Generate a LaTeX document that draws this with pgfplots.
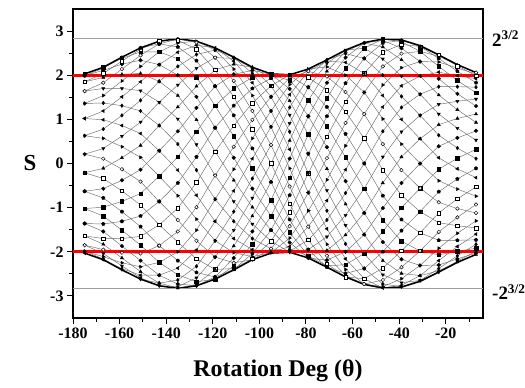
\documentclass[border=0pt]{standalone}
\usepackage{pgfplots}
\pgfplotsset{compat=1.18}
\usepackage{pgfplotstable}
\usepackage{fontspec}
\setmainfont{Liberation Serif}
\definecolor{lgray}{rgb}{0.42,0.42,0.42}
\definecolor{hgray}{rgb}{0.62,0.62,0.62}

\pgfplotstableread{
t A L c0 c1 c2 c3 c4 c5 c6 c7 c8 c9 c10 c11 c12 c13 c14 c15 c16 c17 c18 c19 c20 c21 c22 c23 c24 c25 c26 c27 c28 c29
-175 2.03 -2.03 2.03 1.99 1.85 1.64 1.36 1.02 0.63 0.21 -0.21 -0.63 -1.02 -1.36 -1.64 -1.85 -1.99 -2.03 -1.99 -1.85 -1.64 -1.36 -1.02 -0.63 -0.21 0.21 0.63 1.02 1.36 1.64 1.85 1.99
-167 2.18 -2.18 2.18 2.11 1.95 1.70 1.37 0.99 0.57 0.11 -0.34 -0.78 -1.19 -1.54 -1.83 -2.04 -2.16 -2.18 -2.11 -1.95 -1.70 -1.37 -0.99 -0.57 -0.11 0.34 0.78 1.19 1.54 1.83 2.04 2.16
-159 2.41 -2.41 2.38 2.25 2.02 1.70 1.31 0.86 0.38 -0.13 -0.62 -1.09 -1.51 -1.87 -2.14 -2.32 -2.40 -2.38 -2.25 -2.02 -1.70 -1.31 -0.86 -0.38 0.13 0.62 1.09 1.51 1.87 2.14 2.32 2.40
-151 2.62 -2.62 2.53 2.34 2.04 1.65 1.19 0.68 0.14 -0.41 -0.94 -1.43 -1.85 -2.20 -2.45 -2.59 -2.62 -2.53 -2.34 -2.04 -1.65 -1.19 -0.68 -0.14 0.41 0.94 1.43 1.85 2.20 2.45 2.59 2.62
-143 2.77 -2.77 2.53 2.24 1.86 1.39 0.86 0.29 -0.29 -0.86 -1.39 -1.86 -2.24 -2.53 -2.71 -2.77 -2.71 -2.53 -2.24 -1.86 -1.39 -0.86 -0.29 0.29 0.86 1.39 1.86 2.24 2.53 2.71 2.77 2.71
-135 2.83 -2.83 2.37 2.00 1.54 1.01 0.44 -0.15 -0.73 -1.28 -1.78 -2.20 -2.52 -2.73 -2.82 -2.79 -2.64 -2.37 -2.00 -1.54 -1.01 -0.44 0.15 0.73 1.28 1.78 2.20 2.52 2.73 2.82 2.79 2.64
-127 2.77 -2.77 1.96 1.51 0.99 0.43 -0.15 -0.72 -1.26 -1.75 -2.16 -2.47 -2.68 -2.77 -2.74 -2.59 -2.33 -1.96 -1.51 -0.99 -0.43 0.15 0.72 1.26 1.75 2.16 2.47 2.68 2.77 2.74 2.59 2.33
-119 2.62 -2.62 1.31 0.81 0.27 -0.27 -0.81 -1.31 -1.75 -2.12 -2.40 -2.57 -2.62 -2.57 -2.40 -2.12 -1.75 -1.31 -0.81 -0.27 0.27 0.81 1.31 1.75 2.12 2.40 2.57 2.62 2.57 2.40 2.12 1.75
-111 2.41 -2.41 0.62 0.13 -0.38 -0.86 -1.31 -1.70 -2.02 -2.25 -2.38 -2.40 -2.32 -2.14 -1.87 -1.51 -1.09 -0.62 -0.13 0.38 0.86 1.31 1.70 2.02 2.25 2.38 2.40 2.32 2.14 1.87 1.51 1.09
-103 2.18 -2.18 -0.11 -0.57 -0.99 -1.37 -1.70 -1.95 -2.11 -2.18 -2.16 -2.04 -1.83 -1.54 -1.19 -0.78 -0.34 0.11 0.57 0.99 1.37 1.70 1.95 2.11 2.18 2.16 2.04 1.83 1.54 1.19 0.78 0.34
-95 2.03 -2.03 -0.83 -1.19 -1.51 -1.76 -1.93 -2.02 -2.02 -1.93 -1.76 -1.51 -1.19 -0.83 -0.42 0.00 0.42 0.83 1.19 1.51 1.76 1.93 2.02 2.02 1.93 1.76 1.51 1.19 0.83 0.42 0.00 -0.42
-87 2.01 -2.01 -1.56 -1.79 -1.94 -2.01 -1.99 -1.88 -1.69 -1.42 -1.10 -0.72 -0.32 0.11 0.52 0.91 1.27 1.56 1.79 1.94 2.01 1.99 1.88 1.69 1.42 1.10 0.72 0.32 -0.11 -0.52 -0.91 -1.27
-79 2.14 -2.14 -2.09 -2.14 -2.09 -1.95 -1.73 -1.43 -1.07 -0.66 -0.22 0.22 0.66 1.07 1.43 1.73 1.95 2.09 2.14 2.09 1.95 1.73 1.43 1.07 0.66 0.22 -0.22 -0.66 -1.07 -1.43 -1.73 -1.95
-71 2.35 -2.35 -2.32 -2.19 -1.97 -1.66 -1.28 -0.84 -0.37 0.12 0.61 1.07 1.48 1.83 2.09 2.27 2.35 2.32 2.19 1.97 1.66 1.28 0.84 0.37 -0.12 -0.61 -1.07 -1.48 -1.83 -2.09 -2.27 -2.35
-63 2.57 -2.57 -2.29 -2.00 -1.62 -1.17 -0.67 -0.14 0.40 0.92 1.40 1.82 2.16 2.40 2.54 2.57 2.49 2.29 2.00 1.62 1.17 0.67 0.14 -0.40 -0.92 -1.40 -1.82 -2.16 -2.40 -2.54 -2.57 -2.49
-55 2.74 -2.74 -2.04 -1.61 -1.12 -0.57 0.00 0.57 1.12 1.61 2.04 2.38 2.61 2.73 2.73 2.61 2.38 2.04 1.61 1.12 0.57 0.00 -0.57 -1.12 -1.61 -2.04 -2.38 -2.61 -2.73 -2.73 -2.61 -2.38
-47 2.82 -2.82 -1.54 -1.01 -0.44 0.15 0.73 1.28 1.78 2.20 2.52 2.73 2.82 2.79 2.64 2.37 2.00 1.54 1.01 0.44 -0.15 -0.73 -1.28 -1.78 -2.20 -2.52 -2.73 -2.82 -2.79 -2.64 -2.37 -2.00
-39 2.80 -2.80 -1.00 -0.44 0.15 0.72 1.27 1.76 2.17 2.49 2.70 2.79 2.76 2.61 2.35 1.98 1.52 1.00 0.44 -0.15 -0.72 -1.27 -1.76 -2.17 -2.49 -2.70 -2.79 -2.76 -2.61 -2.35 -1.98 -1.52
-31 2.67 -2.67 -0.56 0.00 0.56 1.09 1.57 1.98 2.31 2.54 2.65 2.65 2.54 2.31 1.98 1.57 1.09 0.56 0.00 -0.56 -1.09 -1.57 -1.98 -2.31 -2.54 -2.65 -2.65 -2.54 -2.31 -1.98 -1.57 -1.09
-23 2.46 -2.46 -0.13 0.39 0.88 1.34 1.74 2.07 2.30 2.43 2.46 2.38 2.20 1.92 1.55 1.12 0.64 0.13 -0.39 -0.88 -1.34 -1.74 -2.07 -2.30 -2.43 -2.46 -2.38 -2.20 -1.92 -1.55 -1.12 -0.64
-15 2.24 -2.24 0.12 0.58 1.02 1.41 1.74 1.99 2.16 2.23 2.21 2.09 1.88 1.58 1.22 0.80 0.35 -0.12 -0.58 -1.02 -1.41 -1.74 -1.99 -2.16 -2.23 -2.21 -2.09 -1.88 -1.58 -1.22 -0.80 -0.35
-7 2.06 -2.06 0.32 0.74 1.12 1.46 1.73 1.92 2.03 2.06 1.99 1.83 1.60 1.30 0.93 0.53 0.11 -0.32 -0.74 -1.12 -1.46 -1.73 -1.92 -2.03 -2.06 -1.99 -1.83 -1.60 -1.30 -0.93 -0.53 -0.11
}\data

\pgfplotsset{
  lat/.style={draw=lgray, line width=0.45bp, mark size=1.8pt},
  mk/.style={mark options={draw=black, fill=black, line width=0.45bp, solid, #1}},
  mk/.default={},
}

\begin{document}
\begin{tikzpicture}
\path[use as bounding box] (-73bp,-70bp) rectangle (452bp,318bp);
\begin{axis}[
  at={(0,0)}, anchor=south west,
  scale only axis, width=410bp, height=309bp,
  xmin=-180, xmax=-4, ymin=-3.5, ymax=3.5,
  xtick={-180,-160,...,-20}, minor xtick={-170,-150,...,-10},
  ytick={-3,-2,...,3}, minor ytick={-2.5,-1.5,...,2.5},
  tick align=outside, xtick pos=left, ytick pos=left,
  major tick length=6bp, minor tick length=3.5bp,
  axis line style={line width=1.1bp},
  every tick/.style={black, line width=1bp},
  tick label style={font=\fontsize{16}{16}\selectfont\bfseries},
  /pgf/number format/assume math mode=true,
  xlabel={Rotation Deg (θ)}, ylabel={S},
  xlabel style={font=\fontsize{24}{24}\selectfont\bfseries, at={(axis description cs:0.5,-0.17)}, anchor=center},
  ylabel style={font=\fontsize{23}{23}\selectfont\bfseries, rotate=-90, at={(axis description cs:-0.105,0.5)}, anchor=center},
  clip=false,
]
\addplot[lat, mark=square*, mk] table[x=t,y=c0]{\data};
\addplot[lat, mark=*, mk] table[x=t,y=c1]{\data};
\addplot[lat, mark=triangle*, mk] table[x=t,y=c2]{\data};
\addplot[lat, mark=triangle*, mk={rotate=180}] table[x=t,y=c3]{\data};
\addplot[lat, mark=diamond*, mk] table[x=t,y=c4]{\data};
\addplot[lat, mark=triangle*, mk={rotate=90}] table[x=t,y=c5]{\data};
\addplot[lat, mark=triangle*, mk={rotate=-90}] table[x=t,y=c6]{\data};
\addplot[lat, mark=*, mk={fill=white}] table[x=t,y=c7]{\data};
\addplot[lat, mark=square*, mk={fill=white}] table[x=t,y=c8]{\data};
\addplot[lat, mark=pentagon*, mk] table[x=t,y=c9]{\data};
\addplot[lat, mark=square*, mk] table[x=t,y=c10]{\data};
\addplot[lat, mark=*, mk] table[x=t,y=c11]{\data};
\addplot[lat, mark=triangle*, mk] table[x=t,y=c12]{\data};
\addplot[lat, mark=triangle*, mk={rotate=180}] table[x=t,y=c13]{\data};
\addplot[lat, mark=diamond*, mk] table[x=t,y=c14]{\data};
\addplot[lat, mark=triangle*, mk={rotate=90}] table[x=t,y=c15]{\data};
\addplot[lat, mark=triangle*, mk={rotate=-90}] table[x=t,y=c16]{\data};
\addplot[lat, mark=*, mk={fill=white}] table[x=t,y=c17]{\data};
\addplot[lat, mark=square*, mk={fill=white}] table[x=t,y=c18]{\data};
\addplot[lat, mark=pentagon*, mk] table[x=t,y=c19]{\data};
\addplot[lat, mark=square*, mk] table[x=t,y=c20]{\data};
\addplot[lat, mark=*, mk] table[x=t,y=c21]{\data};
\addplot[lat, mark=triangle*, mk] table[x=t,y=c22]{\data};
\addplot[lat, mark=triangle*, mk={rotate=180}] table[x=t,y=c23]{\data};
\addplot[lat, mark=diamond*, mk] table[x=t,y=c24]{\data};
\addplot[lat, mark=triangle*, mk={rotate=90}] table[x=t,y=c25]{\data};
\addplot[lat, mark=triangle*, mk={rotate=-90}] table[x=t,y=c26]{\data};
\addplot[lat, mark=*, mk={fill=white}] table[x=t,y=c27]{\data};
\addplot[lat, mark=square*, mk={fill=white}] table[x=t,y=c28]{\data};
\addplot[lat, mark=pentagon*, mk] table[x=t,y=c29]{\data};
% envelope
\addplot[black, line width=1.5bp, no marks] table[x=t,y=A]{\data};
\addplot[black, line width=1.5bp, no marks] table[x=t,y=L]{\data};
% reference lines
\addplot[hgray, line width=1.3bp, no marks] coordinates {(-180,2.828) (-4,2.828)};
\addplot[hgray, line width=1.3bp, no marks] coordinates {(-180,-2.828) (-4,-2.828)};
\addplot[red, line width=2.6bp, no marks] coordinates {(-180,2) (-4,2)};
\addplot[red, line width=2.6bp, no marks] coordinates {(-180,-2) (-4,-2)};
\node[anchor=west, inner sep=0pt, xshift=9bp, font=\fontsize{19}{19}\selectfont\bfseries] at (axis cs:-4,2.83) {2\textsuperscript{3/2}};
\node[anchor=west, inner sep=0pt, xshift=9bp, font=\fontsize{19}{19}\selectfont\bfseries] at (axis cs:-4,-2.92) {-2\textsuperscript{3/2}};
\end{axis}
\end{tikzpicture}
\end{document}
